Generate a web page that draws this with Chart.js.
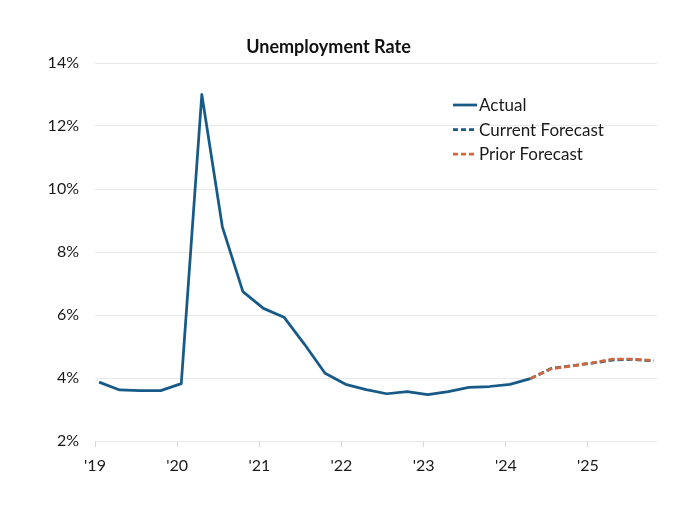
<!DOCTYPE html>
<html>
<head>
<meta charset="utf-8">
<script src="https://cdn.jsdelivr.net/npm/chart.js@4"></script>
<style>
  html, body { margin: 0; padding: 0; background: #fff; }
  #wrap { width: 684px; height: 521px; }
</style>
</head>
<body>
<div id="wrap"><canvas id="chart" width="684" height="521"></canvas></div>
<script>
// quarterly data, Q1 2019 .. Q4 2025
const quarters = [
  '2019Q1','2019Q2','2019Q3','2019Q4',
  '2020Q1','2020Q2','2020Q3','2020Q4',
  '2021Q1','2021Q2','2021Q3','2021Q4',
  '2022Q1','2022Q2','2022Q3','2022Q4',
  '2023Q1','2023Q2','2023Q3','2023Q4',
  '2024Q1','2024Q2','2024Q3','2024Q4',
  '2025Q1','2025Q2','2025Q3','2025Q4'
];
// Actual: 2019Q1 .. 2024Q2
const actual = [3.87,3.62,3.6,3.6, 3.82,13.0,8.8,6.74, 6.21,5.93,5.07,4.15, 3.8,3.63,3.5,3.57, 3.47,3.57,3.7,3.73, 3.8,3.98];
// Forecasts: 2024Q2 .. 2025Q4
const forecastStart = '2024Q2';
const currentForecast = [3.98,4.3,4.39,4.47,4.57,4.59,4.54];
const priorForecast   = [3.98,4.29,4.38,4.48,4.6,4.6,4.55];

const yTicks = [2,4,6,8,10,12,14];
const xTickYears = [2019,2020,2021,2022,2023,2024,2025];

const BLUE = '#175a88';
const ORANGE = '#d2683a';

// quarter -> decimal year (points sit a little after the quarter start)
function qx(q){ const y = +q.slice(0,4), n = +q.slice(5); return y + (n-1)/4 + 0.05; }
function series(vals, startIdx){ return vals.map((v,i)=>({ x: qx(quarters[startIdx+i]), y: v })); }

const fStart = quarters.indexOf(forecastStart);

const legendItems = [
  { text: 'Actual', color: BLUE, dash: [] },
  { text: 'Current Forecast', color: BLUE, dash: [5,3] },
  { text: 'Prior Forecast', color: ORANGE, dash: [5,3] }
];

const legendPlugin = {
  id: 'boxLegend',
  afterDraw(chart){
    const ctx = chart.ctx;
    const x0 = 453, rowY = [105, 129.5, 154];
    ctx.save();
    ctx.font = '17px Lato';
    ctx.textBaseline = 'middle';
    ctx.fillStyle = '#1a1a1a';
    legendItems.forEach((it,i)=>{
      ctx.beginPath();
      ctx.setLineDash(it.dash);
      ctx.strokeStyle = it.color;
      ctx.lineWidth = 2.75;
      ctx.moveTo(x0, rowY[i]); ctx.lineTo(x0+24, rowY[i]);
      ctx.stroke();
      ctx.setLineDash([]);
      ctx.fillText(it.text, x0+26, rowY[i]+1);
    });
    ctx.restore();
  }
};

new Chart(document.getElementById('chart'), {
  type: 'line',
  data: {
    datasets: [
      { label: 'Actual', data: series(actual, 0), borderColor: BLUE, borderWidth: 2.75, order: 2 },
      { label: 'Current Forecast', data: series(currentForecast, fStart), borderColor: BLUE, borderWidth: 2.75, borderDash: [6,3], order: 1 },
      { label: 'Prior Forecast', data: series(priorForecast, fStart), borderColor: ORANGE, borderWidth: 2.75, borderDash: [6,3], order: 0 }
    ]
  },
  options: {
    responsive: false,
    animation: false,
    events: [],
    layout: { padding: { left: 0, right: 27, top: 0, bottom: 0 } },
    elements: { point: { radius: 0 }, line: { tension: 0, borderCapStyle: 'butt', borderJoinStyle: 'round' } },
    plugins: {
      legend: { display: false },
      tooltip: { enabled: false },
      title: {
        display: true, text: 'Unemployment Rate', color: '#111',
        font: { family: 'Lato', size: 18, weight: 'bold', lineHeight: 1.2 },
        padding: { top: 36, bottom: 5.4 }
      }
    },
    scales: {
      x: {
        type: 'linear', min: 2019, max: 2025.84,
        afterBuildTicks(s){ s.ticks = xTickYears.map(v=>({ value: v })); },
        afterFit(s){ s.height = 80; },
        ticks: { color: '#1a1a1a', font: { family: 'Lato', size: 16 }, padding: 9, maxRotation: 0,
          callback: v => "'" + String(v).slice(2) },
        grid: { drawOnChartArea: false, drawTicks: true, tickLength: 6, color: '#d6d6d6' },
        border: { display: false }
      },
      y: {
        min: 2, max: 14,
        afterBuildTicks(s){ s.ticks = yTicks.map(v=>({ value: v })); },
        afterFit(s){ s.width = 95; },
        ticks: { color: '#1a1a1a', font: { family: 'Lato', size: 16 }, padding: 16, callback: v => v + '%' },
        grid: { color: '#e8e8e8', drawTicks: false, lineWidth: 1 },
        border: { display: false }
      }
    }
  },
  plugins: [legendPlugin]
});
</script>
</body>
</html>
